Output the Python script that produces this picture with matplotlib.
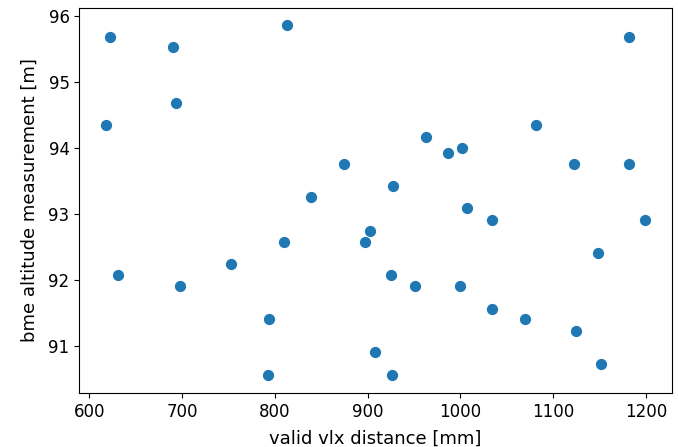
import matplotlib
matplotlib.use("Agg")
import matplotlib.pyplot as plt

vlx_distance = [622.6, 690.5, 812.9, 1181.9, 693.8, 618.3, 963.1, 986.9, 1002.0,
                1081.7, 1122.6, 1181.9, 874.8, 927.6, 839.2, 1007.3, 1034.3, 1199.0,
                902.2, 897.4, 810.1, 1148.5, 753.0, 631.3, 925.4, 698.0, 951.3,
                999.8, 1034.3, 1069.9, 794.0, 1124.8, 908.2, 1151.7, 792.9, 926.5]
bme_altitude = [95.68, 95.53, 95.86, 95.68, 94.68, 94.35, 94.17, 93.92, 94.0,
                94.35, 93.76, 93.76, 93.76, 93.42, 93.26, 93.09, 92.91, 92.91,
                92.74, 92.58, 92.58, 92.41, 92.24, 92.08, 92.08, 91.91, 91.91,
                91.91, 91.56, 91.41, 91.41, 91.23, 90.91, 90.73, 90.56, 90.56]

fig = plt.figure(figsize=(6.78, 4.47), dpi=100)
ax = fig.add_axes([0.117, 0.121, 0.874, 0.862])
ax.scatter(vlx_distance, bme_altitude, color="#1f77b4", s=50)
ax.set_xlabel("valid vlx distance [mm]", fontsize=13, labelpad=6.5)
ax.set_ylabel("bme altitude measurement [m]", fontsize=13, labelpad=7)
ax.tick_params(labelsize=12)
fig.savefig("out.png", dpi=100)
